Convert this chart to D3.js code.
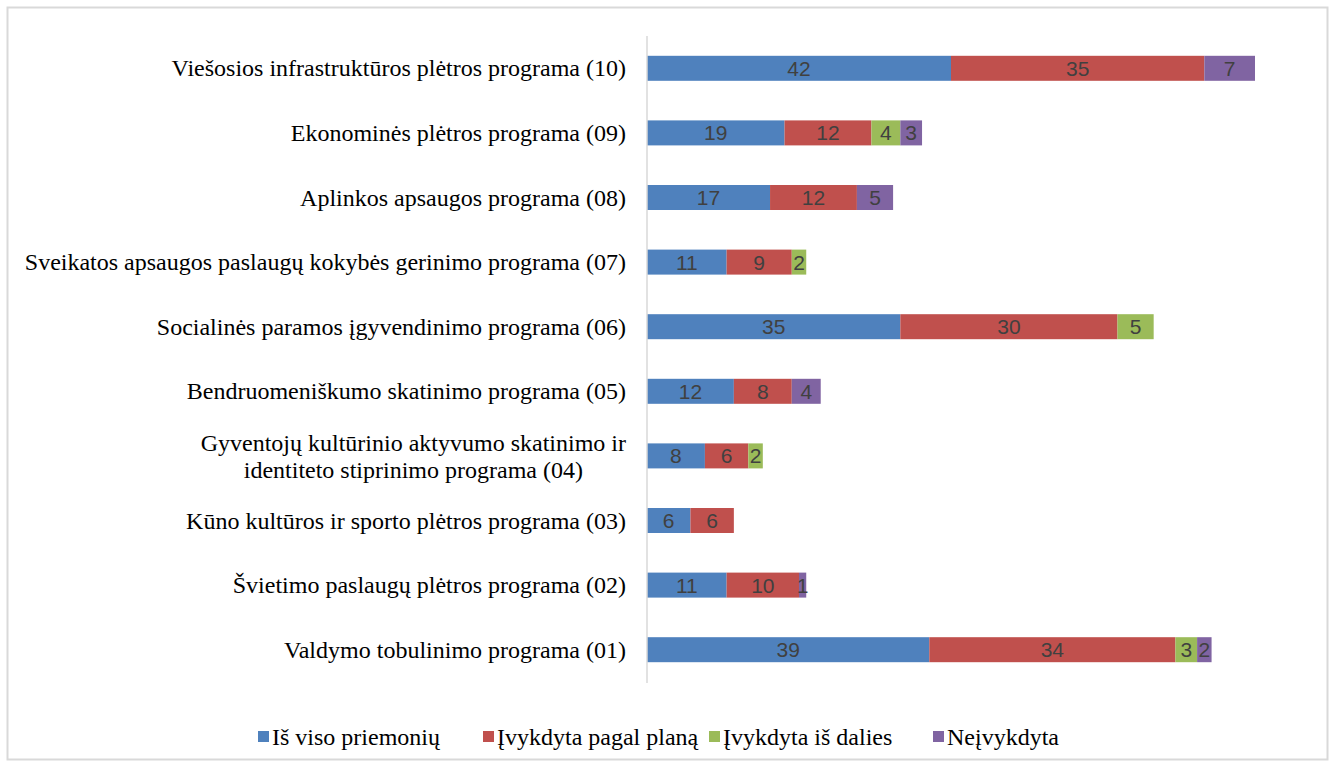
<!DOCTYPE html>
<html><head><meta charset="utf-8">
<script src="https://cdn.jsdelivr.net/npm/d3@7"></script>
<style>body{margin:0;background:#fff}</style>
</head><body>
<svg id="c" width="1335" height="767"></svg>
<script>
const categories = [
  "Viešosios infrastruktūros plėtros programa (10)",
  "Ekonominės plėtros programa (09)",
  "Aplinkos apsaugos programa (08)",
  "Sveikatos apsaugos paslaugų kokybės gerinimo programa (07)",
  "Socialinės paramos įgyvendinimo programa (06)",
  "Bendruomeniškumo skatinimo programa (05)",
  "Gyventojų kultūrinio aktyvumo skatinimo ir|identiteto stiprinimo programa (04)",
  "Kūno kultūros ir sporto plėtros programa (03)",
  "Švietimo paslaugų plėtros programa (02)",
  "Valdymo tobulinimo programa (01)"
];
const seriesNames = ["Iš viso priemonių","Įvykdyta pagal planą","Įvykdyta iš dalies","Neįvykdyta"];
const total     = [42,19,17,11,35,12,8,6,11,39];
const byPlan    = [35,12,12,9,30,8,6,6,10,34];
const partially = [0,4,0,2,5,0,2,0,0,3];
const notDone   = [7,3,5,0,0,4,0,0,1,2];
const colors = ["#4F81BD","#C0504D","#9BBB59","#8064A2"];

const svg = d3.select("#c");
svg.append("rect").attr("x",7.5).attr("y",7.5).attr("width",1320).attr("height",752)
  .attr("fill","#fff").attr("stroke","#d9d9d9").attr("stroke-width",2);

const rows = categories.map((c,i)=>({cat:c, v:[total[i],byPlan[i],partially[i],notDone[i]]}));
const x = d3.scaleLinear().domain([0,84]).range([647,1255]);
const y = d3.scaleBand().domain(categories).range([36,682]).paddingInner(0.613).paddingOuter(0.3065);

const stack = d3.stack().keys([0,1,2,3]).value((d,k)=>d.v[k]);
const layers = stack(rows);

const g = svg.append("g");
layers.forEach((layer,k)=>{
  layer.forEach((seg,i)=>{
    const val = rows[i].v[k];
    if(!val) return;
    const cat = rows[i].cat;
    g.append("rect").attr("x",x(seg[0])).attr("y",y(cat)).attr("width",x(seg[1])-x(seg[0]))
      .attr("height",y.bandwidth()).attr("fill",colors[k]);
  });
});
layers.forEach((layer,k)=>{
  layer.forEach((seg,i)=>{
    const val = rows[i].v[k];
    if(!val) return;
    const cat = rows[i].cat;
    g.append("text").attr("x",(x(seg[0])+x(seg[1]))/2).attr("y",y(cat)+y.bandwidth()/2+7.5)
      .attr("text-anchor","middle").attr("font-family","'Liberation Sans',Arial,sans-serif")
      .attr("font-size",21).attr("fill","#404040").text(val);
  });
});

// axis line
svg.append("line").attr("x1",647).attr("x2",647).attr("y1",36).attr("y2",683)
  .attr("stroke","#d9d9d9").attr("stroke-width",1.5);

// category labels
const lab = svg.append("g").attr("font-family","'Liberation Serif','Times New Roman',serif")
  .attr("font-size",24).attr("fill","#000");
categories.forEach(c=>{
  const cy = y(c)+y.bandwidth()/2;
  const parts = c.split("|");
  if(parts.length===1){
    lab.append("text").attr("x",626).attr("y",cy+8).attr("text-anchor","end").text(c);
  } else {
    const t1 = lab.append("text").attr("x",626).attr("y",cy-5).attr("text-anchor","end").text(parts[0]);
    const w = t1.node().getComputedTextLength();
    lab.append("text").attr("x",626-w/2).attr("y",cy+22).attr("text-anchor","middle").text(parts[1]);
  }
});

// legend
const lg = svg.append("g").attr("font-family","'Liberation Serif','Times New Roman',serif").attr("font-size",24);
const lx = [258,483,709,933];
seriesNames.forEach((n,k)=>{
  lg.append("rect").attr("x",lx[k]).attr("y",731).attr("width",11).attr("height",11).attr("fill",colors[k]);
  lg.append("text").attr("x",lx[k]+14).attr("y",745).text(n);
});
</script>
</body></html>
